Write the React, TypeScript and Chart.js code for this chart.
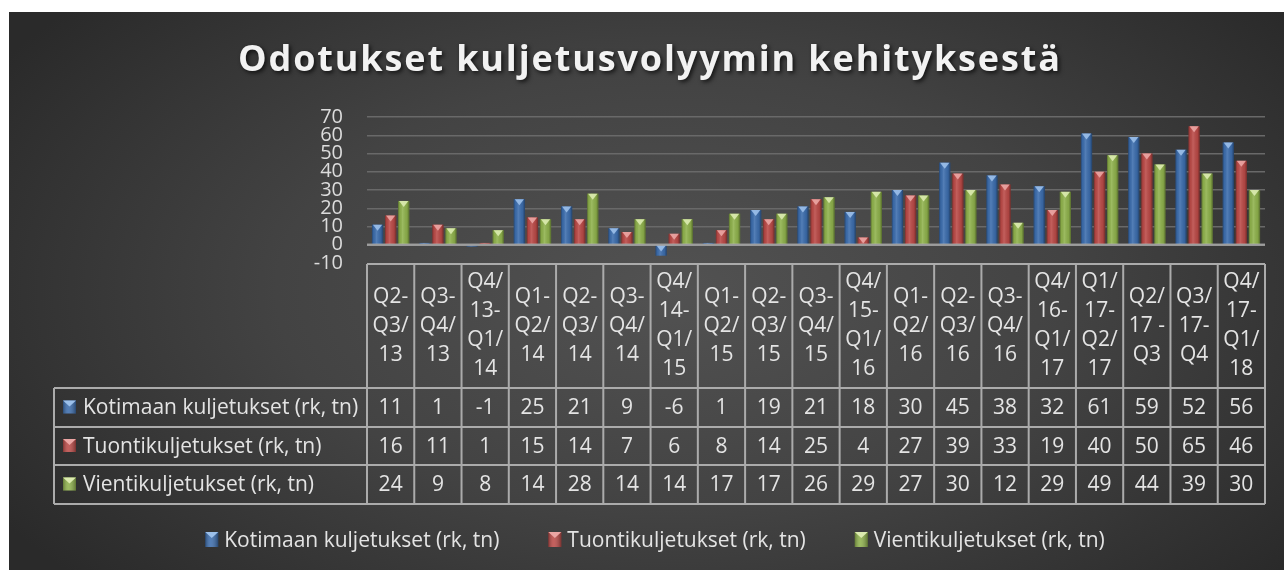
import React, { useEffect, useRef } from "react";
import { Chart, registerables } from "chart.js";
Chart.register(...registerables);

const title = "Odotukset kuljetusvolyymin kehityksestä";
const categories: string[][] = [
  ["Q2-", "Q3/", "13"],
  ["Q3-", "Q4/", "13"],
  ["Q4/", "13-", "Q1/", "14"],
  ["Q1-", "Q2/", "14"],
  ["Q2-", "Q3/", "14"],
  ["Q3-", "Q4/", "14"],
  ["Q4/", "14-", "Q1/", "15"],
  ["Q1-", "Q2/", "15"],
  ["Q2-", "Q3/", "15"],
  ["Q3-", "Q4/", "15"],
  ["Q4/", "15-", "Q1/", "16"],
  ["Q1-", "Q2/", "16"],
  ["Q2-", "Q3/", "16"],
  ["Q3-", "Q4/", "16"],
  ["Q4/", "16-", "Q1/", "17"],
  ["Q1/", "17-", "Q2/", "17"],
  ["Q2/", "17 -", "Q3"],
  ["Q3/", "17-", "Q4"],
  ["Q4/", "17-", "Q1/", "18"],
];
const seriesNames = [
  "Kotimaan kuljetukset (rk, tn)",
  "Tuontikuljetukset (rk, tn)",
  "Vientikuljetukset (rk, tn)",
];
const kotimaan = [11, 1, -1, 25, 21, 9, -6, 1, 19, 21, 18, 30, 45, 38, 32, 61, 59, 52, 56];
const tuonti = [16, 11, 1, 15, 14, 7, 6, 8, 14, 25, 4, 27, 39, 33, 19, 40, 50, 65, 46];
const vienti = [24, 9, 8, 14, 28, 14, 14, 17, 17, 26, 29, 27, 30, 12, 29, 49, 44, 39, 30];
const yMin = -10;
const yMax = 70;
const yStep = 10;

const W = 1275;
const H = 558;
const FONT = '"Open Sans", sans-serif';
const baseColors = ["#3c6dad", "#bb4a47", "#8fb24c"];
const capColors = ["#9cc0ea", "#eba6a4", "#dcebb0"];
const textColor = "#e4e4e4";
const lineColor = "#ababab";

function drawMarker(ctx: CanvasRenderingContext2D, x: number, y: number, w: number, h: number, i: number) {
  ctx.save();
  ctx.fillStyle = baseColors[i];
  ctx.fillRect(x, y, w, h);
  const g = ctx.createLinearGradient(x, 0, x + w, 0);
  g.addColorStop(0, "rgba(0,0,0,0.3)");
  g.addColorStop(0.4, "rgba(255,255,255,0.12)");
  g.addColorStop(1, "rgba(0,0,0,0.35)");
  ctx.fillStyle = g;
  ctx.fillRect(x, y, w, h);
  ctx.fillStyle = capColors[i];
  ctx.beginPath();
  ctx.moveTo(x, y);
  ctx.lineTo(x + w, y);
  ctx.lineTo(x + w / 2, y + Math.min(6, h));
  ctx.closePath();
  ctx.fill();
  ctx.restore();
}

const decorPlugin = {
  id: "decor",
  afterDatasetsDraw(chart: any) {
    const ctx: CanvasRenderingContext2D = chart.ctx;
    chart.data.datasets.forEach((_: any, di: number) => {
      const meta = chart.getDatasetMeta(di);
      meta.data.forEach((el: any) => {
        const { x, y, base, width } = el.getProps(["x", "y", "base", "width"], true);
        const top = Math.min(y, base);
        const bot = Math.max(y, base);
        const h = bot - top;
        const l = x - width / 2;
        ctx.save();
        const g = ctx.createLinearGradient(l, 0, l + width, 0);
        g.addColorStop(0, "rgba(0,0,0,0.35)");
        g.addColorStop(0.15, "rgba(0,0,0,0.05)");
        g.addColorStop(0.4, "rgba(255,255,255,0.12)");
        g.addColorStop(0.8, "rgba(0,0,0,0.08)");
        g.addColorStop(1, "rgba(0,0,0,0.4)");
        ctx.fillStyle = g;
        ctx.fillRect(l, top, width, h);
        if (h >= 3) {
          ctx.fillStyle = capColors[di];
          ctx.globalAlpha = 0.9;
          ctx.beginPath();
          ctx.moveTo(l + 1, top);
          ctx.lineTo(l + width - 1, top);
          ctx.lineTo(x, top + Math.min(6, h));
          ctx.closePath();
          ctx.fill();
        }
        ctx.restore();
      });
    });
    const yS = chart.scales.y;
    const ca = chart.chartArea;
    const y0 = yS.getPixelForValue(0);
    ctx.save();
    ctx.strokeStyle = "rgba(175,175,175,0.75)";
    ctx.lineWidth = 2.5;
    ctx.beginPath();
    ctx.moveTo(ca.left, y0);
    ctx.lineTo(ca.right, y0);
    ctx.stroke();
    ctx.restore();
  },
  afterDraw(chart: any) {
    const ctx: CanvasRenderingContext2D = chart.ctx;
    const ca = chart.chartArea;
    const xS = chart.scales.x;
    const n = categories.length;
    const colW = (ca.right - ca.left) / n;
    const tTop = ca.bottom + 1;
    const hBot = tTop + 124;
    const rowH = [39, 38, 39];
    const rows = [hBot];
    rowH.forEach((rh) => rows.push(rows[rows.length - 1] + rh));
    const tLeft = 45;

    // title
    ctx.save();
    ctx.font = `bold 36px ${FONT}`;
    (ctx as any).letterSpacing = "0px";
    const tw = ctx.measureText(title).width;
    const targetW = 822;
    const ls = (targetW - tw) / (title.length - 1);
    (ctx as any).letterSpacing = `${ls}px`;
    ctx.textAlign = "left";
    ctx.textBaseline = "middle";
    ctx.shadowColor = "rgba(0,0,0,0.7)";
    ctx.shadowBlur = 4;
    ctx.shadowOffsetX = 2;
    ctx.shadowOffsetY = 2;
    ctx.fillStyle = "#f2f2f2";
    ctx.fillText(title, 640 - targetW / 2, 49);
    ctx.restore();

    // table lines
    ctx.save();
    ctx.strokeStyle = lineColor;
    ctx.lineWidth = 2;
    ctx.beginPath();
    ctx.moveTo(ca.left, tTop);
    ctx.lineTo(ca.right, tTop);
    rows.forEach((ry) => {
      ctx.moveTo(tLeft, ry);
      ctx.lineTo(ca.right, ry);
    });
    ctx.moveTo(tLeft, rows[0]);
    ctx.lineTo(tLeft, rows[3]);
    for (let i = 0; i <= n; i++) {
      const bx = ca.left + i * colW;
      ctx.moveTo(bx, tTop);
      ctx.lineTo(bx, rows[3]);
    }
    ctx.stroke();

    // header text
    ctx.font = `21px ${FONT}`;
    ctx.fillStyle = textColor;
    ctx.textAlign = "center";
    ctx.textBaseline = "middle";
    const lh = 29;
    const hc = (tTop + hBot) / 2;
    categories.forEach((lines, i) => {
      const cx = xS.getPixelForValue(i);
      const y0 = hc - ((lines.length - 1) * lh) / 2;
      lines.forEach((s, k) => ctx.fillText(s, cx, y0 + k * lh));
    });

    // values
    const all = [kotimaan, tuonti, vienti];
    all.forEach((arr, r) => {
      const cy = (rows[r] + rows[r + 1]) / 2 + 1;
      arr.forEach((v, i) => ctx.fillText(String(v), xS.getPixelForValue(i), cy));
    });

    // row labels
    ctx.textAlign = "left";
    seriesNames.forEach((name, r) => {
      const cy = (rows[r] + rows[r + 1]) / 2;
      drawMarker(ctx, 54, cy - 7, 13, 13, r);
      ctx.fillStyle = textColor;
      ctx.fillText(name, 74, cy + 1);
    });

    // legend
    const gap = 49;
    const mW = 13;
    const mGap = 6;
    const widths = seriesNames.map((s) => ctx.measureText(s).width);
    const total = widths.reduce((a, b) => a + b + mW + mGap, 0) + gap * 2;
    let lx = 646 - total / 2;
    const ly = 528;
    seriesNames.forEach((s, i) => {
      drawMarker(ctx, lx, ly - 8, mW, 15, i);
      ctx.fillStyle = textColor;
      ctx.fillText(s, lx + mW + mGap, ly + 1);
      lx += mW + mGap + widths[i] + gap;
    });
    ctx.restore();
  },
};

export default function App() {
  const ref = useRef<HTMLCanvasElement>(null);
  useEffect(() => {
    if (!ref.current) return;
    const chart = new Chart(ref.current, {
      type: "bar",
      data: {
        labels: categories,
        datasets: [
          { label: seriesNames[0], data: kotimaan, backgroundColor: baseColors[0], borderWidth: 0 },
          { label: seriesNames[1], data: tuonti, backgroundColor: baseColors[1], borderWidth: 0 },
          { label: seriesNames[2], data: vienti, backgroundColor: baseColors[2], borderWidth: 0 },
        ],
      },
      options: {
        responsive: false,
        animation: false,
        devicePixelRatio: 1,
        layout: { padding: { top: 105, bottom: 307, right: 19, left: 0 } },
        datasets: { bar: { categoryPercentage: 0.83, barPercentage: 0.86 } },
        plugins: {
          legend: { display: false },
          title: { display: false },
          tooltip: { enabled: false },
        },
        scales: {
          x: { display: false },
          y: {
            min: yMin,
            max: yMax,
            afterFit: (s: any) => {
              s.width = 358;
            },
            border: { display: false },
            grid: {
              drawTicks: false,
              lineWidth: 1.5,
              color: (c: any) => (c.tick && c.tick.value === yMin ? "rgba(0,0,0,0)" : "#696969"),
            },
            ticks: {
              stepSize: yStep,
              autoSkip: false,
              padding: 24,
              color: "#dcdcdc",
              font: { family: FONT, size: 20 },
            },
          },
        },
      },
      plugins: [decorPlugin],
    } as any);
    return () => chart.destroy();
  }, []);
  return (
    <div
      style={{
        position: "absolute",
        left: 9,
        top: 12,
        width: W,
        height: H,
        background:
          "radial-gradient(ellipse 62% 78% at 52% 50%, #525252 0%, #434343 50%, #2a2a2a 100%)",
      }}
    >
      <canvas ref={ref} width={W} height={H} style={{ display: "block" }} />
    </div>
  );
}
